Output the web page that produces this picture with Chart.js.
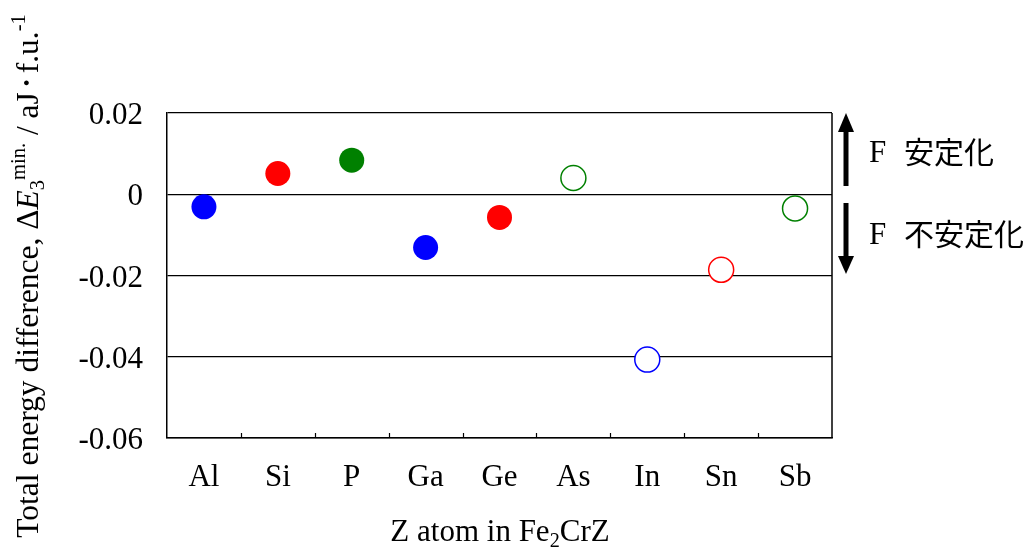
<!DOCTYPE html>
<html>
<head>
<meta charset="utf-8">
<script src="https://cdn.jsdelivr.net/npm/chart.js@4/dist/chart.umd.min.js"></script>
<style>
  html, body { margin: 0; padding: 0; background: #fff; }
  #wrap { width: 1035px; height: 550px; }
</style>
</head>
<body>
<div id="wrap"><canvas id="chart" width="1035" height="550"></canvas></div>
<script>
// Z elements substituted into Fe2CrZ
const categories = ['Al', 'Si', 'P', 'Ga', 'Ge', 'As', 'In', 'Sn', 'Sb'];
// Total energy difference ΔE3 min. (aJ per formula unit)
const energyDiff = [-0.0031, 0.0051, 0.0084, -0.0131, -0.0057, 0.0040, -0.0407, -0.0186, -0.0035];
// Marker colour by group (13: blue, 14: red, 15: green)
const pointColors = ['#0000ff', '#ff0000', '#008000', '#0000ff', '#ff0000', '#008000', '#0000ff', '#ff0000', '#008000'];
// Solid marker or open marker
const pointFilled = [true, true, true, true, true, false, false, false, false];
// Y-axis tick values
const yTickValues = [0.02, 0, -0.02, -0.04, -0.06];

const SERIF = '"Liberation Serif", "DejaVu Serif", serif';
const CJK = '"Noto Sans CJK JP", "Noto Sans", sans-serif';

function fmtTick(v) {
  const r = Math.round(v * 100) / 100;
  if (r === 0) return '0';
  return r.toFixed(2);
}

// Right border of the plot frame and inward tick marks between categories
const framePlugin = {
  id: 'frame',
  afterDatasetsDraw(chart) {
    const { ctx, chartArea: a, scales } = chart;
    ctx.save();
    ctx.strokeStyle = '#000';
    ctx.lineWidth = 1.5;
    ctx.beginPath();
    ctx.moveTo(a.right, a.top);
    ctx.lineTo(a.right, a.bottom);
    ctx.stroke();
    ctx.lineWidth = 1.2;
    const xs = scales.x;
    for (let i = 0; i < categories.length - 1; i++) {
      const x = Math.round((xs.getPixelForValue(i) + xs.getPixelForValue(i + 1)) / 2) + 0.5;
      ctx.beginPath();
      ctx.moveTo(x, a.bottom);
      ctx.lineTo(x, a.bottom - 5);
      ctx.stroke();
    }
    ctx.restore();
  }
};

// Axis titles with sub/superscripts
function runFont(r, size) {
  return (r.bold ? 'bold ' : '') + (r.italic ? 'italic ' : '') +
    (size * (r.scale || 1)).toFixed(1) + 'px ' + (r.family || SERIF);
}
function drawRuns(ctx, runs, size) {
  let total = 0;
  runs.forEach(r => {
    ctx.font = runFont(r, size);
    r.w = ctx.measureText(r.t).width;
    total += r.w;
  });
  let x = -total / 2;
  runs.forEach(r => {
    ctx.font = runFont(r, size);
    ctx.fillText(r.t, x, (r.dy || 0));
    x += r.w;
  });
}

const titlesPlugin = {
  id: 'titles',
  afterDraw(chart) {
    const { ctx } = chart;
    ctx.save();
    ctx.fillStyle = '#000';
    ctx.textAlign = 'left';
    ctx.textBaseline = 'alphabetic';

    // Y title (rotated)
    ctx.save();
    ctx.translate(38, 276);
    ctx.rotate(-Math.PI / 2);
    drawRuns(ctx, [
      { t: 'Total energy difference, Δ' },
      { t: 'E', italic: true },
      { t: '3', scale: 0.65, dy: 6 },
      { t: 'min.', scale: 0.65, dy: -13 },
      { t: ' / aJ' },
      { t: '・', scale: 0.6, bold: true, family: CJK, dy: -4 },
      { t: 'f.u.' },
      { t: '-1', scale: 0.65, dy: -13 }
    ], 31.5);
    ctx.restore();

    // X title
    ctx.save();
    ctx.translate(500, 541);
    drawRuns(ctx, [
      { t: 'Z atom in Fe' },
      { t: '2', scale: 0.65, dy: 6 },
      { t: 'CrZ' }
    ], 31);
    ctx.restore();

    ctx.restore();
  }
};

// Stabilisation / destabilisation arrows at the right
const arrowsPlugin = {
  id: 'arrows',
  afterDraw(chart) {
    const { ctx } = chart;
    const ax = 846;
    ctx.save();
    ctx.fillStyle = '#000';
    ctx.strokeStyle = '#000';
    ctx.lineWidth = 5;
    // up arrow
    ctx.beginPath(); ctx.moveTo(ax, 128); ctx.lineTo(ax, 186); ctx.stroke();
    ctx.beginPath(); ctx.moveTo(ax, 113); ctx.lineTo(ax + 8, 132); ctx.lineTo(ax - 8, 132); ctx.closePath(); ctx.fill();
    // down arrow
    ctx.beginPath(); ctx.moveTo(ax, 203); ctx.lineTo(ax, 260); ctx.stroke();
    ctx.beginPath(); ctx.moveTo(ax - 8, 256); ctx.lineTo(ax + 8, 256); ctx.lineTo(ax, 274); ctx.closePath(); ctx.fill();

    ctx.textBaseline = 'middle';
    ctx.textAlign = 'left';
    ctx.font = '31px ' + SERIF;
    ctx.fillText('F', 869, 154);
    ctx.fillText('F', 869, 236);
    ctx.font = '30px ' + CJK;
    ctx.fillText('安定化', 904, 152);
    ctx.fillText('不安定化', 904, 234);
    ctx.restore();
  }
};

new Chart(document.getElementById('chart'), {
  type: 'line',
  data: {
    labels: categories,
    datasets: [{
      data: energyDiff,
      showLine: false,
      pointRadius: 12.5,
      pointHoverRadius: 12.5,
      pointBorderWidth: pointFilled.map(f => f ? 0 : 1.5),
      pointBorderColor: pointColors,
      pointBackgroundColor: pointColors.map((c, i) => pointFilled[i] ? c : '#ffffff')
    }]
  },
  options: {
    responsive: false,
    animation: false,
    devicePixelRatio: 1,
    layout: { padding: { top: 113, right: 203, bottom: 0, left: 0 } },
    plugins: { legend: { display: false }, tooltip: { enabled: false } },
    scales: {
      x: {
        type: 'category',
        offset: true,
        grid: { display: false },
        border: { display: true, color: '#000', width: 1.5 },
        ticks: { color: '#000', font: { family: SERIF, size: 31 }, padding: 13, maxRotation: 0 },
        afterFit(s) { s.height = 112; }
      },
      y: {
        min: -0.06,
        max: 0.02,
        afterBuildTicks(s) { s.ticks = yTickValues.map(v => ({ value: v })); },
        grid: { color: '#000', lineWidth: 1.2, drawTicks: false },
        border: { display: true, color: '#000', width: 1.5 },
        ticks: { color: '#000', font: { family: SERIF, size: 31 }, padding: 24, labelOffset: 3, callback: v => fmtTick(v) },
        afterFit(s) { s.width = 167; }
      }
    }
  },
  plugins: [framePlugin, titlesPlugin, arrowsPlugin]
});
</script>
</body>
</html>
